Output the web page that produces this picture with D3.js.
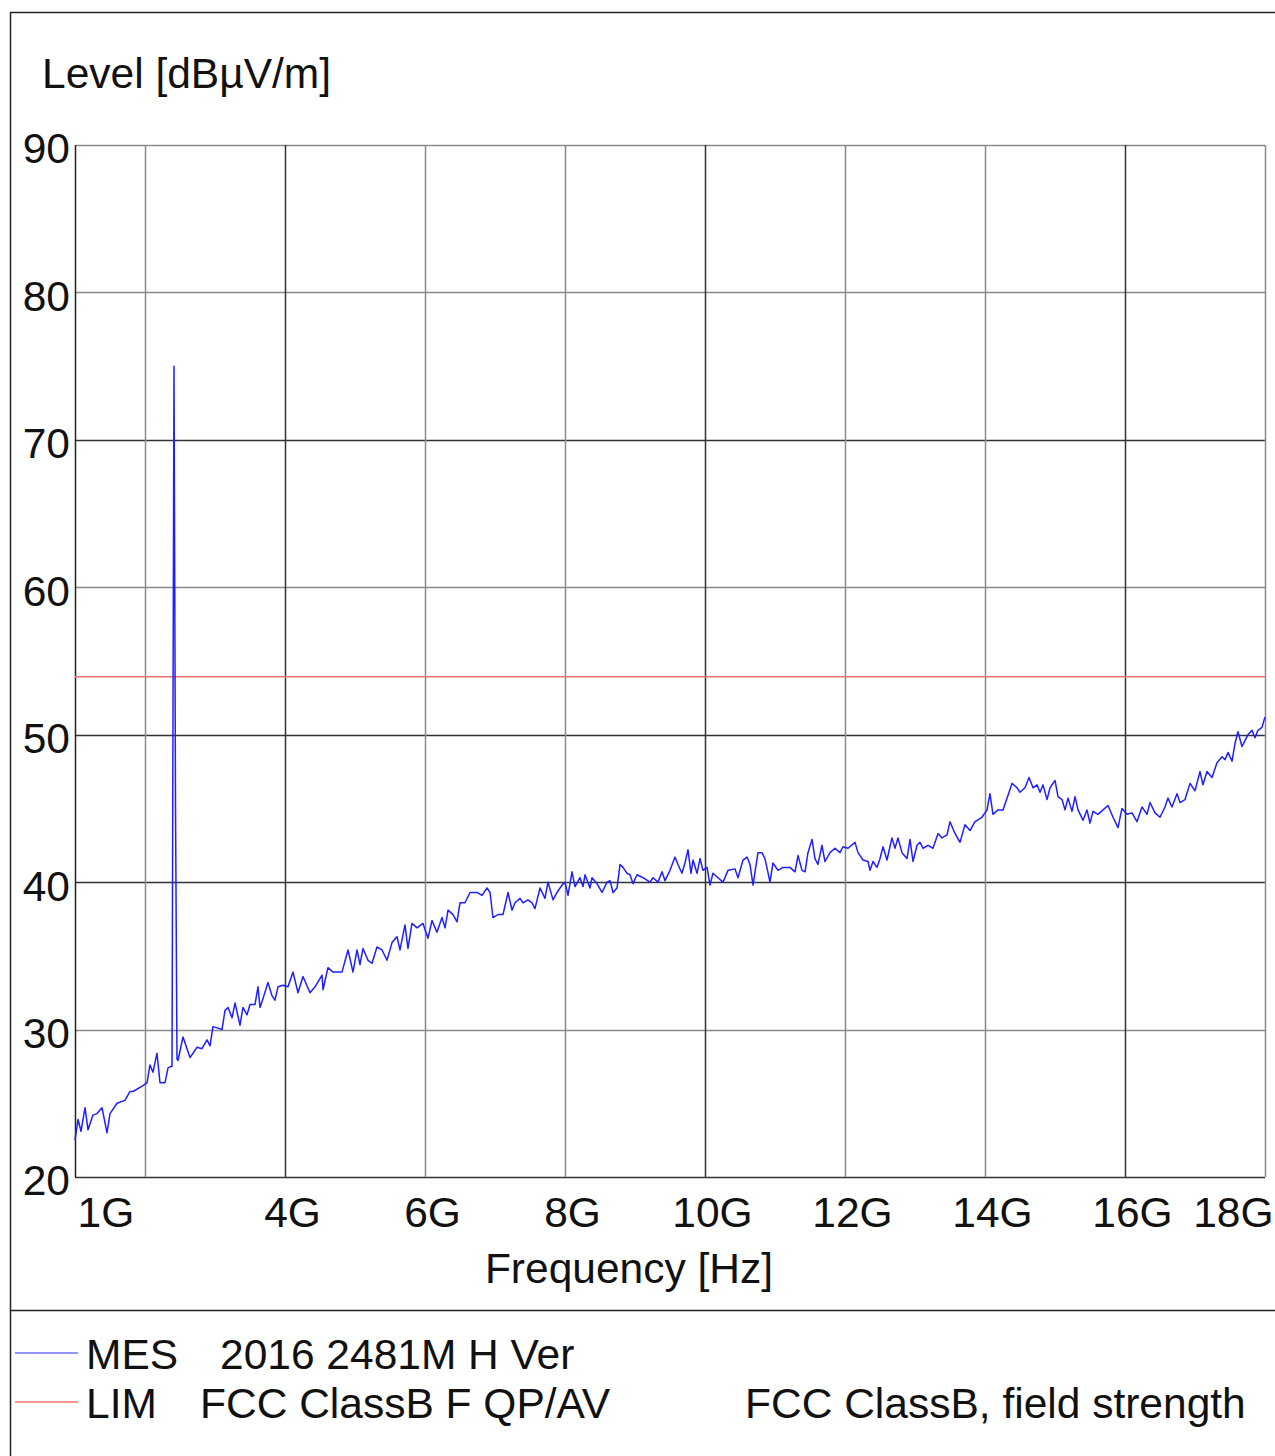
<!DOCTYPE html>
<html>
<head>
<meta charset="utf-8">
<script src="https://cdn.jsdelivr.net/npm/d3@7"></script>
<style>
  html, body { margin: 0; padding: 0; background: #fff; overflow: hidden; }
  svg { display: block; font-family: "Liberation Sans", Arial, sans-serif; }
</style>
</head>
<body>
<svg id="chart" width="1275" height="1456"></svg>
<script>
// ---- Data ----
const yTicks = [20, 30, 40, 50, 60, 70, 80, 90];
const xGridTicks = [2, 4, 6, 8, 10, 12, 14, 16, 18];          // GHz
const xLabelTicks = [1, 4, 6, 8, 10, 12, 14, 16, 18];         // GHz
const xTickLabels = ["1G", "4G", "6G", "8G", "10G", "12G", "14G", "16G", "18G"];
const limitLevel = 54;  // dBµV/m, FCC ClassB
const mesFreq = [
  1.000,1.043,1.086,1.143,1.186,1.257,1.314,1.386,1.457,1.500,1.600,1.714,1.786,1.829,1.971,2.029,2.071,2.114,2.171,2.214,
  2.286,2.329,2.371,2.386,2.414,2.436,2.457,2.471,2.543,2.643,2.743,2.814,2.886,2.929,2.971,3.043,3.100,3.143,3.186,3.243,
  3.286,3.357,3.400,3.457,3.500,3.571,3.614,3.643,3.686,3.757,3.814,3.857,3.900,3.971,4.043,4.114,4.186,4.257,4.357,4.429,
  4.529,4.543,4.614,4.686,4.814,4.900,4.971,5.029,5.071,5.114,5.186,5.243,5.314,5.386,5.457,5.529,5.600,5.643,5.714,5.757,
  5.814,5.886,5.971,6.043,6.100,6.171,6.243,6.286,6.329,6.400,6.457,6.500,6.571,6.643,6.743,6.814,6.886,6.929,6.971,7.043,
  7.114,7.186,7.243,7.286,7.357,7.400,7.471,7.529,7.571,7.643,7.714,7.757,7.829,7.886,7.957,8.000,8.043,8.100,8.143,8.214,
  8.257,8.286,8.357,8.386,8.457,8.529,8.600,8.643,8.686,8.743,8.786,8.829,8.886,8.929,8.971,9.029,9.114,9.214,9.257,9.329,
  9.386,9.429,9.500,9.571,9.614,9.671,9.714,9.757,9.800,9.829,9.886,9.929,9.971,10.029,10.071,10.114,10.186,10.257,10.329,10.429,
  10.471,10.543,10.600,10.643,10.686,10.757,10.814,10.857,10.929,10.971,11.043,11.114,11.214,11.286,11.329,11.386,11.429,11.471,11.529,11.571,
  11.614,11.671,11.714,11.786,11.857,11.929,11.971,12.043,12.143,12.186,12.257,12.329,12.357,12.400,12.457,12.500,12.543,12.600,12.671,12.714,
  12.757,12.814,12.886,12.929,12.971,13.029,13.071,13.114,13.186,13.257,13.329,13.386,13.457,13.500,13.571,13.643,13.714,13.786,13.857,13.957,
  14.029,14.071,14.114,14.186,14.257,14.329,14.386,14.457,14.500,14.571,14.629,14.686,14.743,14.786,14.829,14.886,14.929,15.000,15.043,15.100,
  15.143,15.186,15.243,15.286,15.329,15.400,15.457,15.500,15.543,15.614,15.686,15.757,15.829,15.900,15.957,16.029,16.100,16.171,16.243,16.314,
  16.357,16.429,16.500,16.571,16.614,16.671,16.743,16.786,16.857,16.929,17.000,17.071,17.114,17.171,17.243,17.314,17.386,17.429,17.471,17.529,
  17.571,17.614,17.671,17.714,17.757,17.814,17.857,17.900,17.957,18.000
];
const mesLevel = [
  22.5,23.9,23.1,24.7,23.2,24.2,24.3,24.7,23.0,24.3,25.0,25.2,25.8,25.8,26.2,26.4,27.6,27.1,28.4,26.4,
  26.4,27.4,27.5,27.5,75.0,45.0,28.0,27.9,29.5,28.1,28.8,28.7,29.3,28.9,30.2,30.1,30.0,31.3,31.5,30.8,
  31.8,30.3,31.5,31.0,31.7,31.7,32.9,31.5,32.1,33.2,32.3,32.0,32.9,33.0,32.9,33.9,32.5,33.6,32.5,32.9,
  33.7,32.7,34.2,33.9,33.9,35.4,33.9,35.4,34.4,35.5,34.7,34.5,35.6,35.4,34.7,35.9,36.3,35.4,37.1,35.5,
  37.2,36.9,37.2,36.2,37.4,36.6,37.6,36.9,38.1,37.8,37.3,38.6,38.6,39.3,39.3,39.1,39.6,39.3,37.6,37.8,
  37.8,39.3,38.1,38.6,38.9,38.6,38.8,38.6,38.2,39.6,38.9,40.0,38.8,39.3,39.8,40.0,39.1,40.7,39.7,40.3,
  39.7,40.5,39.6,40.3,39.9,39.3,40.0,40.1,39.3,39.6,41.2,41.0,40.6,40.5,39.9,40.5,40.3,40.0,40.3,40.0,
  40.7,40.1,40.8,41.7,41.2,40.6,41.3,42.2,40.6,41.5,40.6,41.6,40.8,41.0,39.8,40.6,40.3,40.0,40.8,40.9,
  40.3,41.5,41.7,41.2,39.8,42.0,42.0,41.6,40.0,41.3,40.8,41.0,41.0,40.7,41.8,40.8,40.7,42.0,42.9,41.6,
  41.2,42.5,41.4,42.0,42.3,42.0,42.4,42.3,42.7,42.0,41.5,41.4,40.8,41.4,41.0,41.6,42.4,41.5,43.0,42.3,
  43.0,42.0,41.6,42.9,41.4,42.5,42.7,42.3,42.5,42.3,43.3,43.0,43.2,44.1,43.3,42.7,43.9,43.5,44.1,44.4,
  44.9,46.0,44.6,44.9,44.9,45.9,46.7,46.4,46.1,46.4,47.1,46.4,46.6,46.1,46.6,45.6,46.4,46.9,45.8,45.6,
  44.9,45.7,44.8,45.8,44.9,44.2,44.9,44.0,44.8,44.6,44.9,45.2,44.4,43.7,45.0,44.6,44.7,44.1,45.1,44.6,
  45.4,44.7,44.4,45.1,45.7,45.1,46.0,45.4,45.6,46.7,46.2,47.5,46.6,47.5,47.1,48.1,48.5,48.3,48.8,48.2,
  49.4,50.2,49.2,49.6,50.0,50.3,49.8,50.3,50.5,51.2
];
const legendRows = [
  { key: "MES", desc: "2016 2481M H Ver", extra: "" },
  { key: "LIM", desc: "FCC ClassB F QP/AV", extra: "FCC ClassB, field strength" }
];

// ---- Layout ----
const W = 1275, H = 1456;
const plot = { left: 75, right: 1265, top: 145, bottom: 1177 };
const blue = "#1f1fff", red = "#f07070";
const darkGridY = new Set([20, 40, 50, 70]);
const darkGridX = new Set([4, 10, 16]);
const FS = 42.5;

const svg = d3.select("#chart");
const x = d3.scaleLinear().domain([1, 18]).range([plot.left, plot.right]);
const y = d3.scaleLinear().domain([20, 90]).range([plot.bottom, plot.top]);

// outer frame
svg.append("line").attr("x1", 10).attr("x2", W).attr("y1", 12.5).attr("y2", 12.5)
  .attr("stroke", "#222").attr("stroke-width", 1.5);
svg.append("line").attr("x1", 10.5).attr("x2", 10.5).attr("y1", 12).attr("y2", H)
  .attr("stroke", "#222").attr("stroke-width", 1.5);
svg.append("line").attr("x1", 10).attr("x2", W).attr("y1", 1310.5).attr("y2", 1310.5)
  .attr("stroke", "#222").attr("stroke-width", 1.5);

// horizontal grid
svg.append("g").selectAll("line").data(yTicks).join("line")
  .attr("x1", plot.left).attr("x2", plot.right)
  .attr("y1", d => Math.round(y(d)) + 0.5).attr("y2", d => Math.round(y(d)) + 0.5)
  .attr("stroke", d => darkGridY.has(d) ? "#333" : "#8a8a8a")
  .attr("stroke-width", 1.5);

// vertical grid
svg.append("g").selectAll("line").data(xGridTicks).join("line")
  .attr("x1", d => Math.round(x(d)) + 0.5).attr("x2", d => Math.round(x(d)) + 0.5)
  .attr("y1", plot.top).attr("y2", plot.bottom)
  .attr("stroke", d => darkGridX.has(d) ? "#333" : "#8a8a8a")
  .attr("stroke-width", 1.5);

// left axis line
svg.append("line").attr("x1", plot.left + 0.5).attr("x2", plot.left + 0.5)
  .attr("y1", plot.top).attr("y2", plot.bottom).attr("stroke", "#222").attr("stroke-width", 1.5);

// Y axis labels
const yAxis = d3.axisLeft(y).tickValues(yTicks).tickSize(0).tickPadding(5).tickFormat(d3.format("d"));
const gy = svg.append("g").attr("transform", `translate(${plot.left},0)`).call(yAxis);
gy.select(".domain").remove();
gy.selectAll("text").attr("font-size", FS).attr("fill", "#111")
  .attr("font-family", "Liberation Sans, Arial, sans-serif").attr("dy", "0.42em");

// X axis labels
const lastIdx = xLabelTicks.length - 1;
const xAxis = d3.axisBottom(x).tickValues(xLabelTicks).tickSize(0).tickPadding(0)
  .tickFormat((d, i) => xTickLabels[i]);
const gx = svg.append("g").attr("transform", `translate(0,${plot.bottom})`).call(xAxis);
gx.select(".domain").remove();
gx.selectAll("text").attr("font-size", FS).attr("fill", "#111")
  .attr("font-family", "Liberation Sans, Arial, sans-serif")
  .attr("y", 50).attr("dy", 0)
  .attr("dx", (d, i) => i === 0 ? 2 : (i === lastIdx ? 8 : 7))
  .attr("text-anchor", (d, i) => i === 0 ? "start" : (i === lastIdx ? "end" : "middle"));

// axis titles
svg.append("text").attr("x", 42).attr("y", 88).attr("font-size", FS).attr("fill", "#111")
  .text("Level [dBµV/m]");
svg.append("text").attr("x", 629).attr("y", 1283).attr("text-anchor", "middle")
  .attr("font-size", FS).attr("fill", "#111").text("Frequency [Hz]");

// limit line
svg.append("line").attr("x1", plot.left).attr("x2", plot.right)
  .attr("y1", y(limitLevel) + 1).attr("y2", y(limitLevel) + 1)
  .attr("stroke", red).attr("stroke-width", 1.5);

// measurement trace
const mes = mesFreq.map((f, i) => [f, mesLevel[i]]);
svg.append("path").datum(mes)
  .attr("fill", "none").attr("stroke", blue).attr("stroke-width", 1.5)
  .attr("stroke-linejoin", "round")
  .attr("d", d3.line().x(d => x(d[0])).y(d => y(d[1])));

// legend
const legColors = [ "#7070ff", "#f07070" ];
const legY = [1353, 1402];
legendRows.forEach((r, i) => {
  svg.append("line").attr("x1", 15).attr("x2", 78).attr("y1", legY[i]).attr("y2", legY[i])
    .attr("stroke", legColors[i]).attr("stroke-width", 1.5);
  svg.append("text").attr("x", 86).attr("y", legY[i] + 16).attr("font-size", FS).attr("fill", "#111").text(r.key);
  svg.append("text").attr("x", i === 0 ? 220 : 200).attr("y", legY[i] + 16).attr("font-size", FS).attr("fill", "#111").text(r.desc);
  if (r.extra) svg.append("text").attr("x", 745).attr("y", legY[i] + 16).attr("font-size", FS).attr("fill", "#111").text(r.extra);
});
</script>
</body>
</html>
